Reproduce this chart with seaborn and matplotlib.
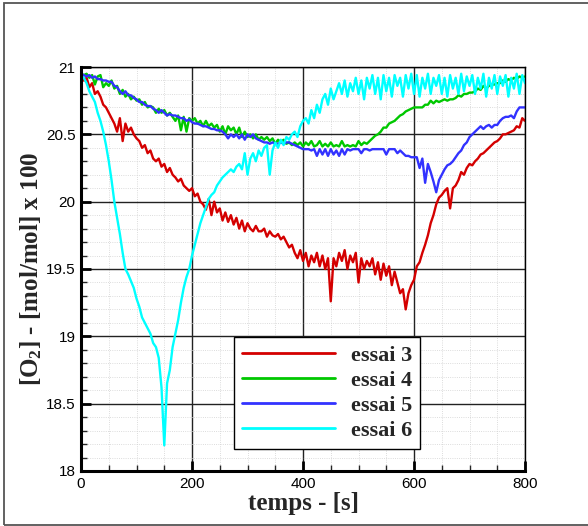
import numpy as np
import pandas as pd
import matplotlib
matplotlib.use("Agg")
import matplotlib.pyplot as plt
import seaborn as sns
from matplotlib.ticker import MultipleLocator
from matplotlib.patches import Rectangle

# time grid (s), one reading every 5 s
temps = np.arange(0, 801, 5)

essai_3 = [
    20.95, 20.90, 20.92, 20.85, 20.88, 20.80, 20.82, 20.78, 20.72, 20.70,
    20.66, 20.62, 20.58, 20.52, 20.62, 20.45, 20.58, 20.52, 20.55, 20.50,
    20.47, 20.45, 20.40, 20.42, 20.36, 20.38, 20.32, 20.30, 20.32, 20.26,
    20.28, 20.22, 20.25, 20.20, 20.18, 20.15, 20.17, 20.12, 20.10, 20.08,
    20.10, 20.04, 20.06, 20.00, 19.98, 19.94, 20.02, 19.90, 20.00, 19.92,
    19.95, 19.86, 19.92, 19.85, 19.90, 19.83, 19.88, 19.80, 19.86, 19.78,
    19.84, 19.80, 19.78, 19.82, 19.78, 19.78, 19.80, 19.74, 19.78, 19.75,
    19.74, 19.76, 19.72, 19.74, 19.70, 19.66, 19.68, 19.62, 19.58, 19.64,
    19.56, 19.62, 19.52, 19.60, 19.55, 19.62, 19.52, 19.60, 19.50, 19.58,
    19.26, 19.58, 19.52, 19.62, 19.56, 19.64, 19.50, 19.60, 19.55, 19.62,
    19.40, 19.58, 19.50, 19.56, 19.52, 19.58, 19.46, 19.55, 19.42, 19.54,
    19.45, 19.52, 19.38, 19.48, 19.40, 19.32, 19.35, 19.20, 19.32, 19.38,
    19.42, 19.52, 19.55, 19.62, 19.68, 19.75, 19.84, 19.90, 19.98, 20.03,
    20.05, 20.08, 20.10, 19.95, 20.10, 20.12, 20.16, 20.22, 20.20, 20.25,
    20.28, 20.27, 20.30, 20.32, 20.35, 20.36, 20.38, 20.40, 20.42, 20.44,
    20.45, 20.47, 20.50, 20.50, 20.51, 20.52, 20.53, 20.56, 20.55, 20.62,
    20.60,
]

essai_4 = [
    20.95, 20.94, 20.95, 20.92, 20.94, 20.87, 20.93, 20.94, 20.85, 20.88,
    20.86, 20.90, 20.84, 20.86, 20.80, 20.83, 20.78, 20.80, 20.76, 20.78,
    20.75, 20.76, 20.72, 20.74, 20.70, 20.71, 20.70, 20.66, 20.69, 20.66,
    20.68, 20.64, 20.66, 20.63, 20.60, 20.64, 20.53, 20.63, 20.52, 20.62,
    20.60, 20.62, 20.58, 20.60, 20.56, 20.60, 20.56, 20.58, 20.55, 20.57,
    20.52, 20.56, 20.50, 20.56, 20.53, 20.55, 20.50, 20.55, 20.48, 20.52,
    20.48, 20.50, 20.47, 20.50, 20.46, 20.48, 20.46, 20.48, 20.45, 20.47,
    20.43, 20.46, 20.44, 20.46, 20.43, 20.44, 20.42, 20.44, 20.42, 20.44,
    20.41, 20.44, 20.42, 20.45, 20.41, 20.42, 20.45, 20.41, 20.43, 20.41,
    20.44, 20.41, 20.42, 20.41, 20.45, 20.41, 20.42, 20.41, 20.42, 20.41,
    20.45, 20.42, 20.44, 20.43, 20.45, 20.47, 20.49, 20.50, 20.52, 20.55,
    20.55, 20.58, 20.59, 20.60, 20.62, 20.64, 20.65, 20.67, 20.68, 20.69,
    20.70, 20.70, 20.70, 20.70, 20.72, 20.72, 20.75, 20.73, 20.75, 20.74,
    20.75, 20.76, 20.75, 20.76, 20.76, 20.77, 20.79, 20.78, 20.80, 20.80,
    20.81, 20.81, 20.82, 20.84, 20.83, 20.86, 20.84, 20.86, 20.87, 20.87,
    20.88, 20.88, 20.90, 20.89, 20.91, 20.90, 20.92, 20.91, 20.93, 20.92,
    20.93,
]

essai_5 = [
    20.95, 20.94, 20.93, 20.94, 20.92, 20.93, 20.91, 20.91, 20.90, 20.90,
    20.89, 20.89, 20.86, 20.85, 20.82, 20.80, 20.82, 20.79, 20.79, 20.77,
    20.76, 20.74, 20.74, 20.72, 20.71, 20.71, 20.69, 20.68, 20.66, 20.68,
    20.66, 20.64, 20.65, 20.64, 20.64, 20.63, 20.62, 20.62, 20.60, 20.61,
    20.59, 20.58, 20.58, 20.57, 20.56, 20.56, 20.55, 20.54, 20.54, 20.53,
    20.53, 20.52, 20.50, 20.47, 20.50, 20.48, 20.50, 20.47, 20.50, 20.46,
    20.50, 20.48, 20.50, 20.47, 20.46, 20.45, 20.44, 20.44, 20.43, 20.44,
    20.43, 20.43, 20.44, 20.43, 20.44, 20.44, 20.43, 20.42, 20.41, 20.40,
    20.39, 20.39, 20.39, 20.38, 20.39, 20.34, 20.39, 20.35, 20.39, 20.34,
    20.39, 20.35, 20.38, 20.34, 20.39, 20.35, 20.39, 20.38, 20.39, 20.39,
    20.39, 20.36, 20.39, 20.39, 20.38, 20.39, 20.39, 20.39, 20.39, 20.39,
    20.35, 20.39, 20.39, 20.39, 20.36, 20.38, 20.36, 20.34, 20.34, 20.33,
    20.33, 20.33, 20.25, 20.32, 20.14, 20.28, 20.22, 20.15, 20.07, 20.16,
    20.20, 20.24, 20.27, 20.28, 20.30, 20.33, 20.36, 20.38, 20.42, 20.44,
    20.48, 20.50, 20.52, 20.54, 20.56, 20.54, 20.56, 20.57, 20.55, 20.57,
    20.57, 20.60, 20.62, 20.63, 20.63, 20.64, 20.62, 20.67, 20.70, 20.70,
    20.70,
]

essai_6 = [
    20.93, 20.92, 20.88, 20.82, 20.78, 20.74, 20.66, 20.60, 20.52, 20.42,
    20.30, 20.16, 20.00, 19.88, 19.76, 19.62, 19.50, 19.46, 19.41, 19.36,
    19.28, 19.22, 19.14, 19.10, 19.06, 19.02, 18.95, 18.92, 18.84, 18.62,
    18.19, 18.65, 18.75, 18.92, 19.02, 19.12, 19.25, 19.36, 19.44, 19.50,
    19.60, 19.68, 19.76, 19.84, 19.90, 19.96, 20.02, 20.05, 20.07, 20.12,
    20.15, 20.18, 20.20, 20.22, 20.24, 20.22, 20.26, 20.28, 20.24, 20.36,
    20.20, 20.32, 20.36, 20.30, 20.38, 20.34, 20.40, 20.42, 20.20, 20.38,
    20.44, 20.40, 20.46, 20.42, 20.48, 20.46, 20.50, 20.52, 20.48, 20.56,
    20.60, 20.62, 20.58, 20.68, 20.62, 20.72, 20.66, 20.76, 20.80, 20.72,
    20.84, 20.76, 20.82, 20.88, 20.80, 20.90, 20.78, 20.88, 20.82, 20.92,
    20.80, 20.90, 20.76, 20.92, 20.84, 20.94, 20.80, 20.92, 20.76, 20.94,
    20.82, 20.92, 20.78, 20.94, 20.86, 20.92, 20.78, 20.94, 20.84, 20.95,
    20.80, 20.94, 20.78, 20.92, 20.84, 20.95, 20.80, 20.92, 20.86, 20.94,
    20.80, 20.92, 20.78, 20.94, 20.84, 20.92, 20.80, 20.95, 20.82, 20.93,
    20.86, 20.94, 20.80, 20.92, 20.84, 20.95, 20.78, 20.92, 20.84, 20.94,
    20.80, 20.93, 20.86, 20.94, 20.78, 20.92, 20.84, 20.95, 20.80, 20.94,
    20.88,
]

labels = ["essai 3", "essai 4", "essai 5", "essai 6"]
colors = ["#d40000", "#00c800", "#3232ff", "#00ffff"]

df = pd.concat([
    pd.DataFrame({"temps": temps, "o2": vals, "essai": lab})
    for vals, lab in zip([essai_3, essai_4, essai_5, essai_6], labels)
])

sns.set_style("white")
plt.rcParams["font.family"] = ["Liberation Sans", "DejaVu Sans"]
plt.rcParams["mathtext.fontset"] = "custom"
plt.rcParams["mathtext.bf"] = "Liberation Serif:bold"
plt.rcParams["mathtext.rm"] = "Liberation Serif:bold"
plt.rcParams["mathtext.default"] = "bf"

fig = plt.figure(figsize=(5.88, 5.26), dpi=100)
ax = fig.add_axes([0.1378, 0.1046, 0.7551, 0.768])

sns.lineplot(data=df, x="temps", y="o2", hue="essai", palette=dict(zip(labels, colors)),
             estimator=None, linewidth=1.7, legend=False, ax=ax)

ax.set_xlim(0, 800)
ax.set_ylim(18, 21)
ax.xaxis.set_major_locator(MultipleLocator(200))
ax.xaxis.set_minor_locator(MultipleLocator(50))
ax.yaxis.set_major_locator(MultipleLocator(0.5))
ax.yaxis.set_minor_locator(MultipleLocator(0.1))
ax.set_yticks([18, 18.5, 19, 19.5, 20, 20.5, 21])
ax.set_yticklabels(["18", "18.5", "19", "19.5", "20", "20.5", "21"])

ax.grid(which="major", color="#222222", linewidth=1.0)
ax.grid(which="minor", color="#d0d0d0", linewidth=0.6, linestyle=":")
ax.set_axisbelow(True)

ax.tick_params(which="major", direction="in", length=7, width=2, labelsize=11,
               left=True, bottom=True, pad=4, colors="black")
ax.tick_params(which="minor", direction="in", length=4, width=1, left=True, bottom=True)
for side in ["left", "bottom"]:
    ax.spines[side].set_linewidth(2.2)
for side in ["top", "right"]:
    ax.spines[side].set_linewidth(1.0)
for s in ax.spines.values():
    s.set_color("black")

ax.set_xlabel("temps - [s]", family="Liberation Serif", fontweight="bold", fontsize=18, labelpad=1)
ax.set_ylabel(r"[O$_2$] - [mol/mol] x 100", family="Liberation Serif", fontweight="bold",
              fontsize=18, labelpad=1)

leg = ax.legend(ax.lines[:4], labels, loc="lower left", bbox_to_anchor=(0.3446, 0.0545),
                borderaxespad=0,
                prop={"family": "Liberation Serif", "weight": "bold", "size": 16},
                handlelength=4.2, handletextpad=0.72, labelspacing=0.21, borderpad=0.35,
                frameon=True, fancybox=False, framealpha=1, edgecolor="black")
leg.get_frame().set_linewidth(1.0)
for line in leg.get_lines():
    line.set_linewidth(2.0)

# thin frame around the whole picture
fig.patches.append(Rectangle((4 / 588, 1 / 526), 1.0, 522 / 526, transform=fig.transFigure,
                             fill=False, edgecolor="#555555", linewidth=1.3, clip_on=False))

plt.savefig("out.png", dpi=100)
